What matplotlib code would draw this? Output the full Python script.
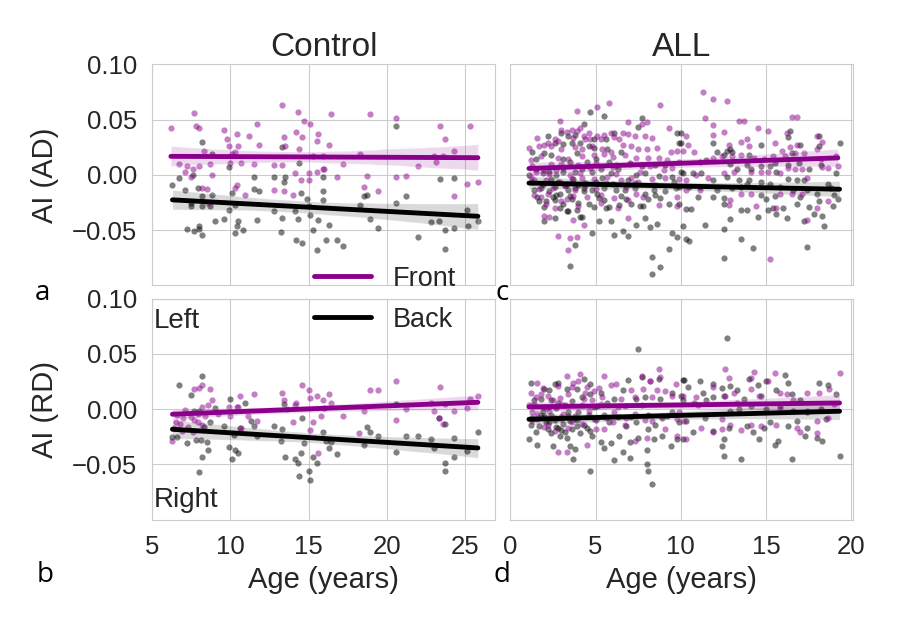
import numpy as np
import matplotlib
matplotlib.use('Agg')
import matplotlib.pyplot as plt
import seaborn as sns
from matplotlib.lines import Line2D

FRONT_COLOR = '#8b008b'
BACK_COLOR = 'black'

# Control group, AI of AD  (age, value)
ctrl_ad_front = [
    (6.2, 0.042), (7.7, 0.056), (7.8, 0.044), (8.0, 0.042), (8.3, 0.022), (6.7, 0.010), (7.2, 0.008),
    (7.6, 0.005), (7.1, 0.003), (7.5, -0.002), (8.0, 0.008), (8.7, 0.010), (8.8, 0.000), (8.5, -0.013),
    (8.2, -0.012), (8.6, -0.025), (9.6, 0.041), (9.8, 0.032), (9.9, 0.026), (10.4, 0.037), (10.5, 0.026),
    (10.1, 0.019), (10.3, 0.021), (10.0, 0.011), (10.7, 0.011), (11.2, 0.035), (11.7, 0.046), (11.8, 0.027),
    (11.5, 0.010), (10.4, -0.009), (10.3, -0.012), (10.9, -0.018), (13.3, 0.063), (13.4, 0.034), (13.5, 0.026),
    (14.2, 0.039), (14.3, 0.057), (14.6, 0.034), (14.7, 0.049), (15.1, 0.046), (14.4, 0.023), (15.6, 0.037),
    (15.5, 0.031), (16.3, 0.027), (16.4, 0.055), (15.3, 0.017), (15.9, 0.017), (12.8, 0.009), (13.3, 0.009),
    (12.8, -0.014), (13.4, -0.015), (14.0, -0.018), (14.1, 0.002), (14.5, -0.005), (15.0, 0.002), (15.0, -0.005),
    (15.5, 0.003), (15.9, 0.005), (16.0, 0.005), (16.8, -0.002), (17.2, 0.010), (18.3, 0.019), (18.5, -0.011),
    (18.7, -0.001), (18.9, 0.055), (19.4, -0.015), (20.6, 0.051), (20.6, -0.002), (21.2, -0.001), (22.0, 0.008),
    (23.0, 0.017), (23.1, 0.012), (23.4, 0.044), (23.7, 0.032), (23.6, 0.017), (24.3, 0.022), (24.3, -0.019),
    (25.1, -0.008), (25.3, 0.044), (25.8, -0.006),
]
ctrl_ad_back = [
    (6.3, -0.009), (6.7, -0.003), (7.1, -0.014), (7.5, -0.025), (7.5, -0.028), (7.6, 0.000), (7.9, -0.012),
    (8.2, -0.019), (8.2, -0.028), (8.2, 0.030), (8.8, 0.019), (8.7, -0.028), (8.8, -0.018), (7.2, -0.049),
    (7.7, -0.051), (8.0, -0.046), (8.2, -0.054), (8.0, -0.049), (9.0, -0.042), (9.6, -0.040), (9.9, -0.032),
    (9.9, 0.007), (10.1, -0.016), (10.3, -0.027), (10.4, -0.046), (10.3, -0.053), (10.5, -0.042), (10.8, -0.050),
    (11.5, -0.002), (11.5, -0.013), (11.8, -0.015), (11.7, -0.041), (12.8, -0.033), (12.8, -0.002), (13.3, 0.025),
    (13.4, -0.006), (13.5, -0.002), (13.3, -0.039), (13.2, -0.052), (14.1, -0.033), (14.2, -0.059), (14.3, -0.040),
    (14.5, -0.016), (14.4, 0.011), (14.6, -0.062), (14.9, -0.022), (15.0, -0.028), (15.1, -0.036), (15.3, -0.050),
    (15.5, -0.068), (15.6, -0.041), (15.9, -0.015), (15.9, -0.023), (15.9, -0.002), (16.1, -0.059), (16.3, -0.045),
    (16.8, -0.059), (17.2, -0.064), (18.3, -0.027), (18.5, -0.019), (18.7, -0.018), (18.9, -0.040), (19.4, -0.048),
    (20.6, 0.044), (20.6, -0.025), (21.2, -0.019), (22.0, -0.056), (22.8, -0.043), (23.3, -0.042), (23.4, -0.004),
    (23.7, -0.050), (23.7, -0.067), (24.3, -0.048), (24.3, -0.003), (25.1, -0.032), (25.2, -0.046), (25.8, -0.042),
]

# Control group, AI of RD
ctrl_rd_front = [
    (6.3, -0.029), (6.6, -0.005), (7.1, -0.001), (7.7, 0.018), (8.0, 0.019), (8.2, 0.022), (8.7, 0.018),
    (8.8, 0.008), (8.6, 0.004), (8.2, 0.002), (7.5, -0.007), (7.7, -0.010), (8.2, -0.014), (6.8, -0.013),
    (7.9, -0.004), (9.9, 0.002), (10.0, -0.006), (10.4, 0.002), (10.6, 0.012), (10.5, 0.002), (11.5, 0.014),
    (11.1, -0.006), (11.7, -0.011), (10.7, -0.017), (13.3, 0.015), (13.4, 0.008), (13.6, 0.000), (14.1, 0.004),
    (14.2, 0.006), (14.6, 0.022), (15.0, 0.017), (15.1, 0.010), (15.5, 0.012), (15.9, 0.008), (16.3, 0.014),
    (16.4, 0.006), (14.0, -0.012), (15.3, -0.012), (15.8, -0.006), (15.1, -0.019), (15.6, -0.040), (17.2, -0.006),
    (18.2, -0.022), (18.5, -0.002), (18.9, 0.017), (19.4, 0.017), (20.6, 0.025), (20.6, -0.010), (21.2, 0.000),
    (23.0, -0.002), (23.4, 0.020), (23.7, 0.005), (23.6, -0.013), (22.8, 0.006), (24.3, -0.002), (25.1, 0.001),
    (25.3, 0.009), (25.8, 0.012), (23.3, -0.008), (6.5, -0.012), (7.0, -0.008), (7.3, -0.016), (7.9, -0.012),
    (8.4, -0.006), (9.2, -0.004), (6.9, -0.020), (6.4, -0.017), (7.6, -0.021),
]
ctrl_rd_back = [
    (6.7, 0.022), (6.3, -0.025), (6.6, -0.025), (7.2, -0.031), (7.5, 0.013), (7.7, -0.002), (7.8, -0.028),
    (8.0, -0.002), (8.2, 0.030), (8.1, -0.028), (8.3, -0.016), (8.5, -0.030), (8.6, -0.037), (8.2, -0.043),
    (8.0, -0.057), (9.0, 0.001), (8.7, -0.012), (9.6, -0.015), (10.0, 0.009), (9.9, -0.034), (10.1, -0.045),
    (10.3, -0.037), (10.5, -0.040), (10.2, -0.023), (10.6, -0.017), (10.9, 0.006), (11.3, -0.011), (11.7, -0.024),
    (11.5, -0.015), (12.8, -0.015), (13.3, -0.018), (13.4, 0.005), (13.2, -0.029), (13.5, -0.043), (14.1, -0.045),
    (14.3, -0.049), (14.5, -0.040), (14.6, -0.008), (14.7, -0.031), (14.4, -0.060), (15.0, -0.056), (15.1, -0.064),
    (15.3, -0.043), (15.5, -0.049), (15.9, -0.021), (16.0, 0.001), (16.1, -0.029), (16.3, -0.035), (16.4, -0.030),
    (16.8, -0.041), (18.5, -0.032), (18.7, -0.016), (18.9, -0.021), (19.4, -0.024), (20.6, 0.005), (20.6, -0.039),
    (21.2, -0.024), (22.0, -0.024), (22.8, -0.027), (23.0, -0.035), (23.3, -0.008), (23.7, -0.013), (23.7, -0.049),
    (23.7, -0.056), (24.3, -0.043), (24.3, -0.026), (25.1, -0.038), (25.8, -0.021),
]

# ALL group, AI of AD
all_ad_front = [
    (3.9, 0.058), (5.1, 0.061), (5.8, 0.065), (8.8, 0.063), (2.9, 0.049), (6.9, 0.048), (8.0, 0.048), (7.7, 0.046),
    (9.3, 0.042), (3.0, 0.041), (3.3, 0.039), (3.6, 0.041), (3.9, 0.040), (4.1, 0.042), (4.6, 0.038), (4.3, 0.035),
    (5.1, 0.035), (5.5, 0.036), (5.9, 0.038), (6.6, 0.038), (6.9, 0.037), (1.6, 0.033), (2.2, 0.029), (2.0, 0.027),
    (2.6, 0.032), (2.8, 0.031), (3.7, 0.033), (4.4, 0.032), (4.7, 0.032), (5.3, 0.032), (6.1, 0.034), (6.4, 0.032),
    (7.3, 0.035), (7.9, 0.035), (8.3, 0.033), (1.1, 0.024), (1.7, 0.026), (2.4, 0.026), (3.0, 0.023), (3.8, 0.025),
    (4.2, 0.023), (4.8, 0.026), (5.4, 0.023), (5.9, 0.021), (6.6, 0.027), (7.1, 0.026), (7.5, 0.023), (8.0, 0.023),
    (8.6, 0.024), (9.4, 0.021), (9.8, 0.022), (1.2, 0.013), (1.8, 0.017), (2.8, 0.015), (3.4, 0.014), (4.2, 0.017),
    (4.9, 0.018), (5.5, 0.019), (6.0, 0.016), (6.7, 0.018), (7.4, 0.015), (8.1, 0.015), (8.7, 0.015), (9.2, 0.013),
    (1.3, 0.008), (2.4, 0.010), (3.1, 0.006), (4.0, 0.009), (5.0, 0.011), (6.0, 0.007), (7.0, 0.010), (8.2, 0.008),
    (9.5, 0.006), (1.4, -0.005), (2.1, -0.005), (2.9, -0.006), (4.2, -0.003), (4.9, -0.004), (5.7, -0.002),
    (6.5, -0.005), (7.1, -0.003), (7.5, -0.006), (8.3, -0.004), (9.1, -0.003), (9.9, -0.004), (1.8, -0.020),
    (2.2, -0.017), (3.0, -0.024), (3.7, -0.019), (4.5, -0.020), (5.3, -0.018), (6.1, -0.021), (6.9, -0.023),
    (7.4, -0.017), (7.8, -0.020), (8.7, -0.027), (9.8, -0.020), (9.8, -0.028), (2.0, -0.037), (2.3, -0.038),
    (4.3, -0.045), (3.7, -0.041), (6.9, -0.039), (2.8, -0.055), (3.5, -0.057), (3.4, -0.068), (3.9, -0.056),
    (1.2, -0.002), (1.5, 0.003), (1.9, -0.008), (2.3, 0.001), (2.5, -0.012), (2.7, 0.004), (3.2, -0.010),
    (3.5, 0.000), (3.8, -0.014), (4.1, 0.002), (4.4, -0.009), (4.7, 0.006), (5.0, -0.013), (5.6, -0.007),
    (6.2, 0.001), (6.8, -0.011), (7.6, 0.003), (8.5, -0.009), (9.0, 0.004), (1.7, -0.013), (2.1, -0.026),
    (2.6, -0.030), (3.3, -0.022), (4.0, -0.028), (1.4, -0.018), (3.0, 0.010), (5.3, -0.025), (6.3, -0.030),
    (2.0, 0.004), (3.6, -0.004),
    (11.3, 0.075), (11.9, 0.069), (12.7, 0.067), (11.4, 0.051), (11.9, 0.045), (13.4, 0.049), (13.7, 0.049),
    (16.5, 0.052), (16.8, 0.052), (12.5, 0.039), (11.9, 0.036), (14.5, 0.042), (15.1, 0.040), (16.2, 0.038),
    (10.3, 0.035), (10.4, 0.027), (10.1, 0.022), (10.8, 0.021), (12.8, 0.027), (13.5, 0.030), (13.9, 0.032),
    (14.0, 0.026), (15.5, 0.029), (16.4, 0.025), (16.8, 0.027), (15.9, 0.022), (18.0, 0.035), (18.3, 0.030),
    (18.0, 0.023), (11.9, 0.015), (12.4, 0.017), (13.0, 0.017), (13.5, 0.018), (14.3, 0.015), (14.9, 0.014),
    (15.4, 0.017), (16.1, 0.017), (16.7, 0.020), (17.2, 0.020), (18.2, 0.014), (19.1, 0.017), (19.2, 0.008),
    (9.9, 0.012), (10.9, 0.000), (11.6, -0.003), (12.5, 0.002), (13.1, 0.003), (14.1, 0.003), (14.7, 0.003),
    (15.1, 0.003), (15.8, 0.002), (16.3, 0.006), (16.7, 0.005), (17.1, 0.005), (17.4, -0.003), (18.3, 0.007),
    (18.6, 0.006), (10.3, -0.005), (11.1, -0.014), (12.9, -0.023), (12.8, -0.027), (13.5, -0.017), (14.1, -0.017),
    (14.4, -0.028), (15.6, -0.030), (15.8, -0.017), (16.5, -0.017), (17.1, -0.017), (18.0, -0.030), (18.6, -0.024),
    (17.4, -0.041), (15.2, -0.076), (10.3, -0.014),
]
all_ad_back = [
    (4.7, 0.057), (5.5, 0.053), (4.3, 0.046), (7.7, 0.051), (7.5, 0.043), (2.2, 0.035), (3.0, 0.038), (3.4, 0.035),
    (3.8, 0.036), (4.9, 0.032), (5.6, 0.032), (6.1, 0.038), (2.6, 0.029), (3.1, 0.028), (3.6, 0.029), (4.1, 0.029),
    (4.6, 0.026), (4.9, 0.024), (5.7, 0.023), (6.5, 0.021), (1.3, 0.021), (1.5, 0.014), (2.0, 0.020), (2.4, 0.018),
    (3.1, 0.014), (3.5, 0.012), (3.9, 0.020), (4.5, 0.012), (5.0, 0.014), (5.8, 0.012), (6.2, 0.009), (7.0, 0.011),
    (7.7, 0.008), (8.5, 0.009), (9.1, 0.009), (9.8, 0.038), (9.9, 0.029), (1.1, 0.000), (1.5, 0.005), (1.9, 0.002),
    (2.3, 0.003), (2.7, 0.000), (3.1, 0.003), (3.8, 0.003), (4.2, 0.005), (4.8, 0.003), (5.3, 0.005), (5.9, 0.002),
    (6.3, 0.005), (6.9, -0.005), (7.4, 0.000), (7.9, 0.002), (8.7, -0.001), (9.5, -0.002), (10.0, 0.003),
    (1.4, -0.014), (1.8, -0.012), (2.3, -0.015), (2.6, -0.011), (2.9, -0.017), (3.4, -0.014), (3.8, -0.012),
    (4.3, -0.015), (4.8, -0.014), (5.1, -0.017), (5.5, -0.012), (6.2, -0.014), (6.7, -0.014), (7.3, -0.012),
    (7.9, -0.017), (8.4, -0.014), (9.1, -0.015), (9.7, -0.012), (1.7, -0.024), (2.0, -0.029), (2.6, -0.023),
    (3.1, -0.026), (3.4, -0.033), (3.9, -0.032), (4.2, -0.038), (4.6, -0.026), (4.9, -0.029), (5.5, -0.023),
    (5.8, -0.029), (6.4, -0.027), (7.1, -0.026), (7.6, -0.028), (8.1, -0.022), (8.8, -0.021), (9.3, -0.026),
    (2.0, -0.042), (2.6, -0.039), (3.3, -0.033), (4.1, -0.038), (4.8, -0.053), (5.2, -0.042), (5.9, -0.042),
    (6.1, -0.054), (6.6, -0.051), (6.9, -0.055), (7.4, -0.045), (7.9, -0.039), (8.2, -0.047), (8.6, -0.044),
    (9.5, -0.053), (9.8, -0.056), (3.8, -0.063), (3.5, -0.082), (8.3, -0.074), (8.8, -0.083), (8.3, -0.090),
    (9.3, -0.067), (2.8, -0.006), (3.3, -0.008), (4.0, -0.009), (2.5, -0.020), (3.6, -0.022), (4.4, -0.007),
    (1.3, -0.006), (1.6, -0.020), (1.9, -0.008), (2.1, -0.024), (2.4, -0.004), (2.7, -0.018), (2.9, -0.030),
    (3.2, -0.009), (3.5, -0.019), (3.7, -0.004), (4.0, -0.025), (4.3, -0.012), (5.0, -0.006),
    (5.2, -0.021), (5.6, -0.030), (6.0, -0.008), (6.5, -0.019), (7.3, -0.007), (7.8, -0.028),
    (8.5, -0.018), (9.6, -0.006), (5.4, -0.003), (6.8, -0.022),
    (10.0, 0.038), (10.0, 0.029), (11.9, 0.029), (12.1, 0.021), (12.7, 0.022), (12.9, 0.023), (13.0, 0.021),
    (12.5, 0.018), (14.0, 0.018), (14.7, 0.027), (16.4, 0.040), (16.3, 0.034), (16.5, 0.020), (17.0, 0.027),
    (18.1, 0.026), (18.1, 0.035), (19.3, 0.029), (11.1, 0.012), (11.5, 0.013), (12.9, 0.010), (13.3, 0.005),
    (13.9, 0.009), (14.1, 0.005), (14.7, 0.008), (15.2, 0.008), (15.5, 0.011), (16.3, 0.009), (16.9, 0.011),
    (17.5, 0.005), (18.2, 0.009), (19.1, 0.002), (10.1, 0.002), (10.7, 0.002), (11.2, 0.002), (11.9, -0.005),
    (12.7, -0.002), (13.4, -0.005), (13.9, -0.008), (14.7, -0.006), (15.2, -0.008), (15.6, 0.003), (16.3, -0.004),
    (16.8, -0.005), (17.2, -0.005), (18.6, -0.008), (9.9, -0.011), (10.5, -0.011), (11.1, -0.011), (11.9, -0.020),
    (12.5, -0.021), (12.1, -0.014), (13.5, -0.011), (14.7, -0.018), (15.5, -0.019), (15.8, -0.011), (16.6, -0.014),
    (17.4, -0.014), (18.0, -0.017), (12.5, -0.026), (13.5, -0.032), (13.9, -0.032), (15.1, -0.032), (15.4, -0.030),
    (15.6, -0.035), (16.2, -0.039), (16.8, -0.026), (17.5, -0.029), (18.1, -0.024), (18.3, -0.037), (18.4, -0.046),
    (9.9, -0.026), (10.3, -0.031), (10.6, -0.031), (10.1, -0.046), (11.4, -0.045), (12.5, -0.049), (12.9, -0.040),
    (13.5, -0.058), (14.2, -0.066), (12.5, -0.075), (17.4, -0.065), (10.3, -0.058), (10.5, -0.060),
    (11.0, -0.020), (13.0, -0.012), (15.0, -0.022), (17.0, -0.020), (19.0, -0.018), (14.0, -0.005), (18.8, -0.012),
    (14.5, -0.038), (16.0, -0.030), (17.8, -0.035), (18.9, -0.028), (19.2, -0.022), (17.2, -0.042),
]

# ALL group, AI of RD
all_rd_front = [
    (3.3, 0.030), (4.1, 0.032), (5.5, 0.030), (1.6, 0.024), (1.2, 0.015), (2.8, 0.021), (3.7, 0.024), (4.0, 0.025),
    (4.5, 0.020), (4.9, 0.016), (5.4, 0.011), (5.9, 0.022), (6.2, 0.023), (7.1, 0.017), (7.7, 0.030), (8.2, 0.025),
    (8.7, 0.036), (8.8, 0.029), (7.8, 0.018), (8.6, 0.017), (9.1, 0.016), (9.7, 0.023), (1.5, 0.011), (2.2, 0.012),
    (3.4, 0.014), (4.3, 0.009), (4.8, 0.008), (6.5, 0.009), (7.3, 0.011), (8.3, 0.011), (9.5, 0.012), (2.2, -0.014),
    (1.6, -0.009), (2.8, -0.039), (3.3, -0.039), (4.5, -0.032), (5.5, -0.018), (6.0, -0.012), (4.9, -0.009),
    (7.3, -0.029), (8.0, -0.026), (9.1, -0.018), (9.8, -0.009), (9.8, -0.024), (2.6, -0.008), (3.6, -0.012),
    (6.8, -0.008), (8.3, -0.011), (8.9, -0.006), (6.7, 0.003), (7.7, 0.004), (3.0, 0.005), (4.2, 0.004), (5.3, 0.005),
    (6.3, 0.002), (1.4, 0.005), (8.2, 0.025), (1.9, 0.019), (2.5, 0.008), (3.1, -0.004), (1.3, -0.003), (2.0, 0.002),
    (1.3, -0.010), (1.6, -0.004), (2.0, -0.016), (2.3, -0.002), (2.6, -0.020), (3.0, -0.009), (3.4, -0.017),
    (3.8, -0.006), (4.2, -0.013), (4.6, -0.002), (5.0, -0.018), (5.6, -0.008), (6.1, -0.003), (6.7, -0.014),
    (7.3, -0.004), (7.9, -0.010), (2.9, 0.010), (1.8, 0.014), (3.6, 0.020), (4.4, 0.015), (5.2, 0.019), (1.1, 0.004),
    (12.6, 0.036), (14.3, 0.034), (15.5, 0.033), (19.3, 0.033), (12.8, 0.028), (14.1, 0.028), (15.1, 0.025),
    (11.9, 0.020), (12.6, 0.012), (13.1, 0.015), (14.1, 0.018), (14.6, 0.012), (15.8, 0.015), (16.2, 0.014),
    (17.4, 0.015), (18.1, 0.015), (18.7, 0.018), (10.9, 0.011), (10.1, 0.012), (9.9, -0.003), (10.2, -0.011),
    (10.3, -0.027), (11.2, -0.017), (11.9, -0.021), (12.4, -0.018), (12.9, -0.014), (13.5, -0.019), (14.1, -0.014),
    (14.7, -0.015), (15.6, -0.014), (16.8, -0.017), (17.0, -0.021), (18.0, -0.011), (18.0, -0.022), (18.6, -0.008),
    (12.4, -0.009), (17.4, -0.002), (15.8, 0.000), (11.0, 0.004), (13.3, 0.006), (16.6, 0.008), (19.0, 0.005),
]
all_rd_back = [
    (7.5, 0.054), (1.2, 0.024), (2.6, 0.023), (2.8, 0.024), (4.3, 0.027), (4.7, 0.023), (6.9, 0.026), (7.7, 0.029),
    (8.7, 0.027), (10.1, 0.026), (2.0, 0.018), (2.3, 0.017), (3.3, 0.018), (3.9, 0.018), (4.7, 0.014), (5.3, 0.015),
    (6.1, 0.009), (6.6, 0.017), (7.4, 0.009), (7.9, 0.011), (8.8, 0.009), (9.5, 0.015), (10.0, 0.012), (1.4, 0.008),
    (1.8, 0.009), (2.4, 0.008), (2.8, 0.006), (3.6, 0.007), (4.2, 0.011), (5.1, 0.003), (5.7, 0.006), (2.0, -0.006),
    (2.4, -0.005), (3.0, -0.007), (3.4, -0.003), (3.8, -0.008), (4.6, -0.005), (5.5, -0.005), (6.3, -0.007),
    (7.1, -0.007), (8.1, -0.005), (8.9, -0.008), (9.5, -0.003), (1.7, -0.015), (2.2, -0.018), (2.8, -0.017),
    (3.2, -0.021), (3.6, -0.018), (4.1, -0.022), (4.5, -0.017), (4.8, -0.024), (5.3, -0.030), (5.9, -0.031),
    (6.4, -0.024), (7.0, -0.030), (7.5, -0.026), (8.1, -0.018), (8.4, -0.027), (8.9, -0.024), (9.4, -0.033),
    (9.8, -0.027), (1.6, -0.032), (2.5, -0.033), (3.7, -0.045), (3.5, -0.033), (3.8, -0.036), (5.5, -0.035),
    (6.1, -0.046), (6.6, -0.039), (7.0, -0.044), (8.0, -0.037), (4.7, -0.056), (8.0, -0.050), (8.1, -0.056),
    (8.3, -0.068), (1.1, -0.027), (2.1, -0.012), (2.6, -0.010), (3.1, -0.013), (3.5, -0.011), (2.9, -0.024),
    (3.3, -0.026), (2.4, -0.022), (1.9, -0.002), (1.3, -0.008), (4.0, -0.003), (3.9, -0.015), (2.7, 0.001),
    (1.2, -0.014), (1.5, -0.021), (1.8, -0.005), (2.3, -0.012), (2.7, -0.016), (3.0, -0.019), (3.4, -0.006),
    (3.9, -0.010), (4.3, -0.014), (4.7, -0.020), (5.0, -0.010), (5.8, -0.012), (6.8, -0.015), (7.4, -0.012),
    (8.5, -0.014), (9.2, -0.006), (2.2, 0.002), (3.2, 0.004), (4.9, 0.002),
    (12.7, 0.064), (10.2, 0.026), (11.1, 0.025), (11.9, 0.023), (12.4, 0.019), (12.9, 0.021), (14.0, 0.027),
    (14.5, 0.022), (15.0, 0.025), (16.1, 0.031), (16.3, 0.024), (18.1, 0.024), (18.6, 0.022), (19.1, 0.014),
    (10.4, 0.020), (11.3, 0.015), (11.9, 0.011), (12.5, 0.012), (13.3, 0.017), (13.7, 0.009), (14.7, 0.012),
    (15.6, 0.017), (16.5, 0.014), (17.0, 0.008), (18.2, 0.000), (10.1, 0.008), (10.8, 0.006), (11.5, 0.008),
    (12.9, -0.002), (13.4, 0.000), (14.1, 0.003), (15.0, 0.000), (15.8, 0.003), (16.6, -0.002), (17.4, -0.003),
    (9.9, -0.012), (10.3, -0.011), (10.7, -0.021), (10.1, -0.027), (11.9, -0.020), (12.8, -0.017), (12.5, -0.027),
    (12.4, -0.033), (12.5, -0.042), (13.5, -0.045), (13.9, -0.015), (14.2, -0.021), (14.6, -0.027), (14.9, -0.017),
    (15.5, -0.032), (15.7, -0.029), (16.3, -0.015), (16.8, -0.011), (17.3, -0.024), (17.4, -0.017), (18.0, -0.026),
    (18.3, -0.029), (18.5, -0.009), (16.5, -0.045), (19.3, -0.042), (11.4, -0.008), (15.2, -0.012),
]

panels = [
    (0, 0, ctrl_ad_front, ctrl_ad_back),
    (1, 0, ctrl_rd_front, ctrl_rd_back),
    (0, 1, all_ad_front, all_ad_back),
    (1, 1, all_rd_front, all_rd_back),
]

sns.set_style('whitegrid')
plt.rcParams['font.family'] = ['Liberation Sans', 'DejaVu Sans']
plt.rcParams['axes.edgecolor'] = '.8'
plt.rcParams['grid.color'] = '.8'

fig, axes = plt.subplots(2, 2, figsize=(9, 6.3), dpi=100, sharey=True, sharex='col')
fig.subplots_adjust(left=0.169, right=0.948, top=0.898, bottom=0.175, wspace=0.044, hspace=0.059)

for row, col, front, back in panels:
    ax = axes[row, col]
    for pts, color in [(back, BACK_COLOR), (front, FRONT_COLOR)]:
        arr = np.array(pts)
        sns.regplot(x=arr[:, 0], y=arr[:, 1], ax=ax, color=color, seed=0, truncate=True,
                    scatter_kws={'s': 20, 'alpha': 0.5, 'linewidths': 0},
                    line_kws={'lw': 3.5})
    ax.set_ylim(-0.1, 0.1)
    ax.set_yticks([-0.05, 0.0, 0.05, 0.10])
    ax.set_yticklabels(['\u22120.05', '0.00', '0.05', '0.10'])
    ax.tick_params(labelsize=18.5, colors='.15', length=0)
    ax.tick_params(axis='y', pad=11)
    ax.tick_params(axis='x', pad=11)
    for s in ax.spines.values():
        s.set_color('.8')

axes[0, 0].set_xlim(5.0, 26.9)
axes[0, 0].set_xticks([5, 10, 15, 20, 25])
axes[0, 1].set_xlim(0, 20.1)
axes[0, 1].set_xticks([0, 5, 10, 15, 20])

axes[0, 0].set_title('Control', fontsize=24, color='.15', pad=6)
axes[0, 1].set_title('ALL', fontsize=24, color='.15', pad=6)
axes[0, 0].set_ylabel('AI (AD)', fontsize=21, color='.15')
axes[1, 0].set_ylabel('AI (RD)', fontsize=21, color='.15')
axes[0, 0].yaxis.set_label_coords(-0.27, 0.5)
axes[1, 0].yaxis.set_label_coords(-0.27, 0.5)
axes[1, 0].set_xlabel('Age (years)', fontsize=21, color='.15', labelpad=5)
axes[1, 1].set_xlabel('Age (years)', fontsize=21, color='.15', labelpad=5)

axes[1, 0].text(0.005, 0.9, 'Left', transform=axes[1, 0].transAxes, fontsize=20, color='.15', va='center')
axes[1, 0].text(0.005, 0.09, 'Right', transform=axes[1, 0].transAxes, fontsize=20, color='.15', va='center')

handles = [Line2D([], [], color=FRONT_COLOR, lw=3.5), Line2D([], [], color=BACK_COLOR, lw=3.5)]
fig.legend(handles, ['Front', 'Back'], loc='center', bbox_to_anchor=(0.428, 0.525), frameon=False,
           fontsize=19.5, handlelength=2.1, labelspacing=0.55, labelcolor='.15')

for lab, x, y in [('a', 0.047, 0.535), ('b', 0.05, 0.088), ('c', 0.558, 0.535), ('d', 0.558, 0.088)]:
    fig.text(x, y, lab, fontsize=20, family='Open Sans', color='black', ha='center', va='center')

fig.savefig('out.png', dpi=100)
